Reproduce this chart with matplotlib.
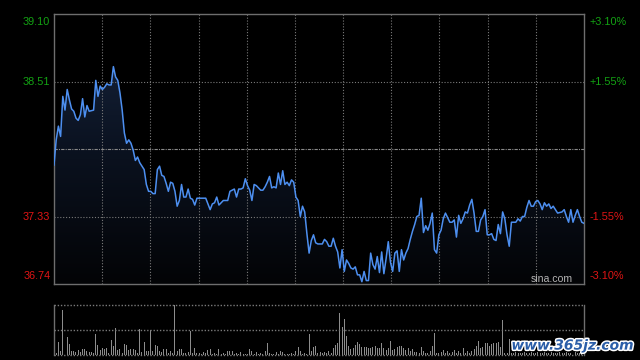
import numpy as np
import matplotlib
matplotlib.use("Agg")
import matplotlib.pyplot as plt
import matplotlib.patheffects as pe
from matplotlib.patches import Polygon

# ---- data ----
PREV_CLOSE = 37.92
LEFT_TICKS = [39.10, 38.51, 37.33, 36.74]
RIGHT_TICKS = ["+3.10%", "+1.55%", "-1.55%", "-3.10%"]
N_MIN = 241  # minutes in the session (0..241)

minute = [0, 1, 2, 3, 4, 5, 6, 7, 8, 9, 10, 11, 12, 13, 14, 15, 16, 18, 19, 20,
          21, 22, 23, 24, 25, 26, 27, 28, 29, 30, 31, 32, 33, 34, 35, 36, 37, 38, 39, 41,
          42, 43, 44, 45, 46, 47, 48, 49, 50, 51, 52, 53, 54, 55, 56, 57, 58, 59, 60, 61,
          62, 63, 64, 65, 66, 69, 70, 71, 72, 73, 74, 75, 76, 77, 79, 80, 81, 82, 83, 84,
          85, 86, 87, 88, 89, 90, 91, 92, 93, 94, 95, 96, 97, 98, 99, 100, 101, 102, 103, 104,
          105, 106, 107, 108, 109, 110, 111, 112, 113, 114, 115, 116, 117, 118, 119, 120, 122, 123, 124, 125,
          126, 127, 128, 129, 130, 131, 132, 133, 134, 135, 136, 137, 138, 139, 140, 141, 142, 143, 144, 145,
          146, 147, 148, 149, 150, 151, 152, 153, 154, 155, 156, 157, 158, 159, 160, 161, 162, 163, 164, 165,
          166, 167, 168, 169, 170, 171, 172, 173, 174, 175, 176, 177, 178, 180, 181, 182, 183, 184, 185, 186,
          187, 188, 189, 190, 191, 192, 193, 194, 195, 196, 197, 198, 199, 200, 201, 202, 203, 204, 205, 206,
          207, 208, 210, 211, 212, 213, 214, 215, 216, 217, 218, 219, 220, 221, 222, 223, 224, 225, 226, 227,
          228, 229, 231, 232, 233, 234, 235, 236, 237, 238, 239, 240, 241]
price = [37.78, 38.00, 38.12, 38.03, 38.38, 38.26, 38.44, 38.35, 38.27, 38.25, 38.19, 38.17, 38.22, 38.36, 38.20, 38.30, 38.25, 38.26, 38.52, 38.38,
         38.47, 38.44, 38.46, 38.49, 38.48, 38.48, 38.64, 38.55, 38.52, 38.41, 38.26, 38.06, 37.97, 38.00, 37.97, 37.91, 37.82, 37.85, 37.80, 37.74,
         37.61, 37.55, 37.55, 37.53, 37.53, 37.74, 37.77, 37.69, 37.68, 37.62, 37.55, 37.63, 37.62, 37.55, 37.42, 37.47, 37.61, 37.50, 37.50, 37.57,
         37.49, 37.48, 37.43, 37.49, 37.49, 37.49, 37.44, 37.39, 37.44, 37.45, 37.50, 37.43, 37.45, 37.47, 37.47, 37.55, 37.56, 37.57, 37.50, 37.57,
         37.57, 37.58, 37.66, 37.60, 37.56, 37.47, 37.61, 37.60, 37.58, 37.56, 37.56, 37.59, 37.63, 37.68, 37.58, 37.59, 37.58, 37.71, 37.61, 37.73,
         37.61, 37.63, 37.60, 37.65, 37.63, 37.50, 37.47, 37.33, 37.42, 37.37, 37.18, 37.01, 37.12, 37.17, 37.10, 37.09, 37.09, 37.13, 37.11, 37.07,
         37.07, 37.14, 37.07, 37.02, 36.88, 37.04, 36.85, 36.95, 36.92, 36.88, 36.87, 36.89, 36.82, 36.82, 36.76, 36.85, 36.77, 36.77, 37.01, 36.91,
         36.87, 36.98, 36.84, 37.02, 36.83, 36.96, 37.11, 36.93, 36.85, 37.01, 37.03, 36.85, 37.04, 36.95, 37.01, 37.05, 37.13, 37.20, 37.26, 37.33,
         37.34, 37.49, 37.19, 37.25, 37.21, 37.27, 37.36, 37.04, 37.01, 37.17, 37.21, 37.31, 37.36, 37.28, 37.28, 37.30, 37.15, 37.34, 37.27, 37.31,
         37.37, 37.36, 37.43, 37.48, 37.36, 37.20, 37.20, 37.30, 37.33, 37.39, 37.17, 37.17, 37.18, 37.13, 37.12, 37.26, 37.18, 37.37, 37.31, 37.17,
         37.07, 37.28, 37.28, 37.31, 37.29, 37.33, 37.33, 37.41, 37.47, 37.42, 37.42, 37.46, 37.47, 37.44, 37.39, 37.45, 37.42, 37.44, 37.40, 37.42,
         37.39, 37.36, 37.37, 37.39, 37.33, 37.28, 37.39, 37.28, 37.34, 37.39, 37.33, 37.28, 37.27]

# per-minute volume (relative units, tallest bar = 1000)
volume = [30, 47, 260, 80, 900, 120, 360, 220, 73, 87, 67, 100, 67, 120, 120, 73, 53, 67, 40, 420,
          200, 100, 140, 120, 140, 47, 300, 187, 540, 100, 120, 47, 220, 200, 100, 120, 120, 100, 40, 513,
          53, 260, 80, 80, 500, 80, 200, 180, 80, 53, 120, 120, 47, 80, 40, 1000, 87, 120, 120, 40,
          33, 67, 480, 40, 140, 40, 47, 30, 60, 47, 100, 120, 30, 47, 30, 120, 30, 33, 30, 80,
          80, 80, 30, 33, 30, 53, 30, 30, 30, 120, 80, 30, 60, 30, 47, 30, 80, 240, 47, 30,
          30, 53, 30, 80, 53, 30, 30, 30, 47, 30, 80, 160, 80, 30, 47, 30, 420, 80, 160, 180,
          47, 67, 47, 67, 40, 80, 47, 133, 200, 247, 847, 567, 720, 380, 180, 120, 147, 193, 260, 213,
          167, 167, 167, 133, 133, 167, 180, 140, 133, 240, 133, 100, 133, 280, 100, 127, 167, 180, 180, 133,
          100, 147, 80, 127, 67, 67, 47, 167, 80, 47, 47, 80, 180, 447, 47, 47, 67, 100, 47, 80,
          47, 60, 100, 47, 80, 47, 147, 47, 80, 47, 80, 113, 187, 280, 147, 167, 233, 233, 180, 213,
          233, 233, 260, 167, 700, 47, 33, 320, 47, 33, 60, 40, 47, 33, 60, 47, 40, 67, 47, 33,
          60, 47, 40, 53, 33, 47, 60, 40, 47, 33, 53, 40, 47, 60, 33, 47, 40, 53, 33, 47,
          40, 60]

GREEN = "#13a313"
RED = "#e01515"
GRID = "#7a7a7a"
FRAME = "#6e6e6e"

fig = plt.figure(figsize=(6.4, 3.6), dpi=100, facecolor="black")
ax = fig.add_axes([54 / 640, 76 / 360, 530 / 640, 270 / 360])
axv = fig.add_axes([54 / 640, 5 / 360, 530 / 640, 50 / 360])
for a in (ax, axv):
    a.set_facecolor("black")
    a.set_xticks([]); a.set_yticks([])

lo, hi = LEFT_TICKS[-1], LEFT_TICKS[0]
ax.set_xlim(0, N_MIN)
ax.set_ylim(lo, hi)

# gradient area under the price line
grad = np.linspace(0, 1, 256).reshape(-1, 1)
cmap = matplotlib.colors.LinearSegmentedColormap.from_list(
    "fill", ["#030406", "#0b1220", "#172640"])
im = ax.imshow(grad, cmap=cmap, origin="lower", aspect="auto",
               extent=[0, N_MIN, lo, hi], zorder=1)
poly = Polygon(np.column_stack([[minute[0]] + minute + [minute[-1]],
                                [lo] + price + [lo]]),
               closed=True, facecolor="none", edgecolor="none")
ax.add_patch(poly)
im.set_clip_path(poly)

ax.plot(minute, price, color="#4d8ff0", lw=1.1, zorder=4)

# grid
for xv in np.linspace(0, N_MIN, 12)[1:-1]:
    ax.axvline(xv, color=GRID, lw=0.8, ls=(0, (1, 1.6)), zorder=2)
for yv in LEFT_TICKS[1:-1]:
    ax.axhline(yv, color=GRID, lw=0.8, ls=(0, (1, 1.6)), zorder=2)
ax.axhline(PREV_CLOSE, color="#8a8a8a", lw=0.8, ls=(0, (3, 1, 1, 1)), zorder=2)
for s in ax.spines.values():
    s.set_color(FRAME); s.set_linewidth(1.0)

# axis labels
lab_font = dict(family="Liberation Sans", fontsize=7.8)
vas = ["top", "center", "center", "bottom"]
cols = [GREEN, GREEN, RED, RED]
for val, pct, va, c in zip(LEFT_TICKS, RIGHT_TICKS, vas, cols):
    yoff = {"top": -0.012, "center": 0, "bottom": 0.012}[va]
    yy = (val - lo) / (hi - lo) + yoff
    ax.text(-0.007, yy, f"{val:.2f}", transform=ax.transAxes, ha="right", va=va,
            color=c, **lab_font)
    ax.text(1.011, yy, pct, transform=ax.transAxes, ha="left", va=va,
            color=c, **lab_font)

ax.text(0.979, 0.009, "sina.com", transform=ax.transAxes, ha="right", va="baseline",
        color="#b4b4b4", family="Liberation Sans", fontsize=7.6, zorder=5)

# volume panel
vmin = np.arange(len(volume))
axv.bar(vmin, volume, width=0.45, color="#8c8c8c", linewidth=0)
axv.set_xlim(0, N_MIN)
axv.set_ylim(0, max(volume))
for s in ("top", "bottom"):
    axv.spines[s].set_visible(False)
for s in ("left", "right"):
    axv.spines[s].set_color(FRAME); axv.spines[s].set_linewidth(1.0)
for yv in (0, max(volume) / 2, max(volume)):
    axv.axhline(yv, color=GRID, lw=1.0, ls=(0, (1, 1.3)), clip_on=False, zorder=3)

fig.text(0.99, 0.04, "www.365jz.com", ha="right", va="center", color="#2b5ea8",
         fontsize=10, weight="bold", style="italic", family="DejaVu Sans",
         path_effects=[pe.withStroke(linewidth=2.2, foreground="white")], zorder=10)

fig.savefig("out.png", facecolor="black")
